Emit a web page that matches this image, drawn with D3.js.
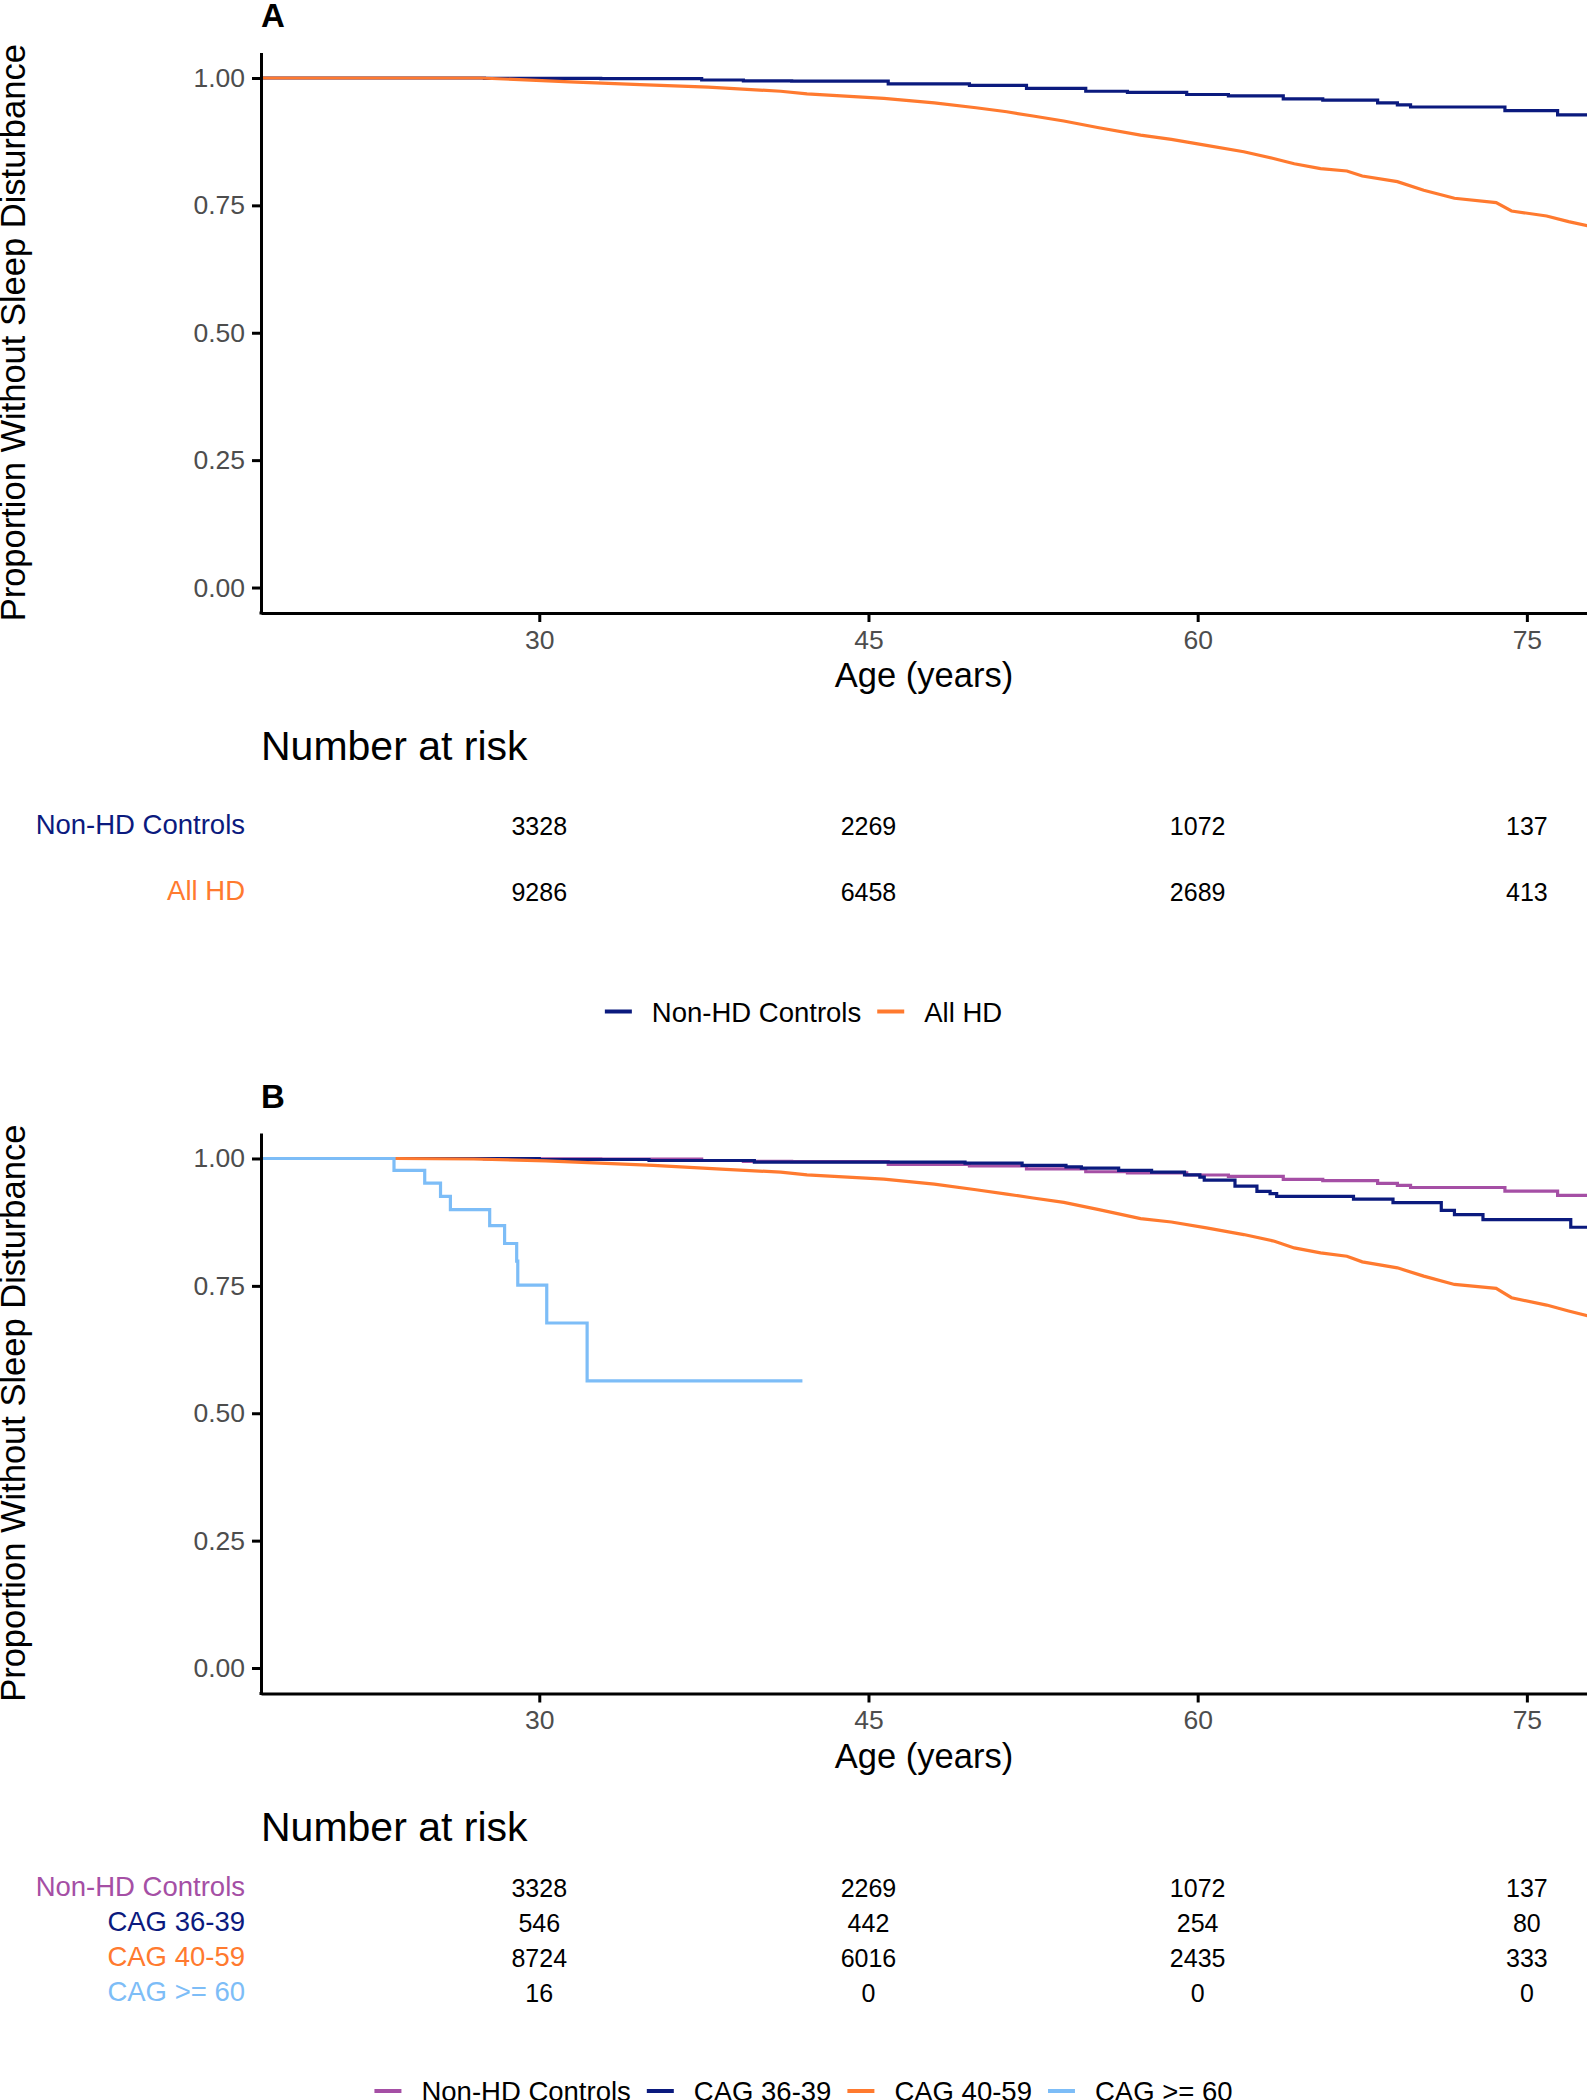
<!DOCTYPE html>
<html>
<head>
<meta charset="utf-8">
<script src="https://cdn.jsdelivr.net/npm/d3@7"></script>
<style>
  html, body { margin: 0; padding: 0; background: #fff; }
  svg { display: block; font-family: "Liberation Sans", Arial, Helvetica, sans-serif; }
</style>
</head>
<body>
<svg id="chart" width="1587" height="2100"></svg>
<script>
// ---------------- data ----------------
const xTicks = [30, 45, 60, 75];
const yTicks = [0, 0.25, 0.5, 0.75, 1];
const yTickLabels = ["0.00", "0.25", "0.50", "0.75", "1.00"];
const riskTimes = [30, 45, 60, 75];

// Non-HD Controls (used in both panels)
const ctrlAge  = [17.4, 27.5, 32.8, 37.4, 39.3, 41.5, 45.9, 49.6, 52.2, 54.9, 56.8, 59.5, 61.4, 63.9, 65.7, 68.2, 69.1, 69.7, 74.0, 76.4, 77.8];
const ctrlSurv = [1.0, 0.9993, 0.9987, 0.996, 0.9945, 0.9937, 0.9885, 0.9853, 0.9794, 0.974, 0.9716, 0.9676, 0.965, 0.959, 0.9565, 0.9513, 0.9473, 0.943, 0.936, 0.9277, 0.9277];

// All HD (panel A)
const allHDAge  = [17.4, 27.3, 31.4, 34.6, 37.7, 41.0, 42.2, 45.7, 48.0, 49.9, 51.3, 52.5, 53.9, 55.5, 57.4, 58.8, 60.4, 62.1, 63.5, 64.4, 65.6, 66.8, 67.5, 69.1, 70.3, 71.7, 73.6, 74.3, 75.9, 76.9, 77.8];
const allHDSurv = [1.0, 1.0, 0.9924, 0.987, 0.982, 0.974, 0.9689, 0.9598, 0.9513, 0.9415, 0.9337, 0.9253, 0.9155, 0.9024, 0.888, 0.8795, 0.8678, 0.8553, 0.8415, 0.8317, 0.822, 0.8174, 0.8076, 0.7965, 0.7796, 0.764, 0.7553, 0.739, 0.7292, 0.718, 0.7096];

// CAG 36-39 (panel B)
const cag36Age  = [17.4, 30.0, 35.0, 39.8, 49.4, 52.0, 54.0, 54.7, 56.4, 57.9, 59.4, 60.1, 60.3, 61.7, 62.7, 63.3, 63.6, 67.1, 68.9, 71.1, 71.7, 73.0, 77.0, 77.8];
const cag36Surv = [1.0, 0.998, 0.996, 0.9928, 0.9909, 0.9863, 0.9837, 0.9811, 0.9765, 0.9732, 0.968, 0.9635, 0.9576, 0.9459, 0.9354, 0.931, 0.9256, 0.9204, 0.9132, 0.8982, 0.8898, 0.88, 0.865, 0.865];

// CAG 40-59 (panel B)
const cag40Age  = [17.4, 23.4, 27.0, 30.3, 35.2, 38.5, 41.0, 42.2, 45.7, 48.0, 49.9, 51.3, 52.5, 53.9, 55.5, 57.4, 58.8, 60.4, 62.1, 63.5, 64.4, 65.6, 66.8, 67.5, 69.1, 70.3, 71.7, 73.6, 74.3, 75.9, 76.9, 77.8];
const cag40Surv = [1.0, 1.0, 0.999, 0.9954, 0.9863, 0.9785, 0.9733, 0.968, 0.9596, 0.9498, 0.9387, 0.9302, 0.9224, 0.9139, 0.8996, 0.882, 0.8754, 0.8637, 0.8507, 0.8376, 0.8245, 0.8147, 0.8082, 0.7971, 0.7854, 0.7691, 0.7528, 0.745, 0.7267, 0.7123, 0.7006, 0.6908];

// CAG >= 60 (panel B)
const cag60Age  = [17.4, 23.38, 24.78, 25.5, 25.95, 27.74, 28.42, 28.97, 29.02, 30.34, 32.18, 41.99];
const cag60Surv = [1.0, 0.9765, 0.9517, 0.9256, 0.8996, 0.8683, 0.8331, 0.7984, 0.7515, 0.6771, 0.5636, 0.5636];

// Number at risk
const riskA = [
  { name: "Non-HD Controls", values: [3328, 2269, 1072, 137] },
  { name: "All HD",          values: [9286, 6458, 2689, 413] }
];
const riskB = [
  { name: "Non-HD Controls", values: [3328, 2269, 1072, 137] },
  { name: "CAG 36-39",       values: [546, 442, 254, 80] },
  { name: "CAG 40-59",       values: [8724, 6016, 2435, 333] },
  { name: "CAG >= 60",       values: [16, 0, 0, 0] }
];

// ---------------- styles ----------------
const C = {
  navy: "#0b1a7e",
  orange: "#ff7a2f",
  purple: "#a54fa5",
  lblue: "#7dbdf7"
};

const svg = d3.select("#chart");
const FONT_TICK = 26.5, FONT_TITLE = 34.5, FONT_RISKT = 41, FONT_RLAB = 27.5, FONT_RNUM = 25, FONT_LEG = 27.5;

const x = d3.scaleLinear().domain([17.32, 77.74]).range([261, 1587]);

function zip(a, v) { return a.map((d, i) => ({ age: d, s: v[i] })); }

function drawPanel(cfg) {
  const { top, tag, series, risk, legend } = cfg;
  // y scale: 1.00 at top+24.8, 0.00 at top+535
  const y0 = top + 560.5, y1 = top;  // domain [-0.05, 1.05]
  const y = d3.scaleLinear().domain([-0.05, 1.05]).range([y0, y1]);
  const g = svg.append("g");

  // tag
  g.append("text").attr("x", 261).attr("y", top - 25.5)
    .attr("font-size", 33).attr("font-weight", "bold").text(tag);

  // clip
  const clipId = "clip" + tag;
  svg.append("clipPath").attr("id", clipId)
    .append("rect").attr("x", 261).attr("y", top).attr("width", 1587 - 261).attr("height", y0 - top);

  const lineGen = d3.line().x(d => x(d.age)).y(d => y(d.s));
  const curves = g.append("g").attr("clip-path", `url(#${clipId})`);
  series.forEach(s => {
    curves.append("path")
      .datum(zip(s.age, s.surv))
      .attr("fill", "none")
      .attr("stroke", s.color)
      .attr("stroke-width", 3.2)
      .attr("stroke-linejoin", "miter")
      .attr("d", lineGen.curve(s.step ? d3.curveStepAfter : d3.curveLinear));
  });

  // axes
  const yAxis = d3.axisLeft(y).tickValues(yTicks).tickFormat((d, i) => yTickLabels[i])
    .tickSize(9).tickSizeOuter(0).tickPadding(7);
  const ga = g.append("g").attr("transform", "translate(261,0)").call(yAxis);
  const xAxis = d3.axisBottom(x).tickValues(xTicks).tickFormat(d3.format("d"))
    .tickSize(9).tickSizeOuter(0).tickPadding(8);
  const gx = g.append("g").attr("transform", `translate(0,${y0})`).call(xAxis);
  [ga, gx].forEach(a => {
    a.select(".domain").attr("stroke", "#000").attr("stroke-width", 3);
    a.selectAll(".tick line").attr("stroke", "#000").attr("stroke-width", 3);
    a.selectAll(".tick text").attr("fill", "#4d4d4d").attr("font-size", FONT_TICK)
      .attr("font-family", '"Liberation Sans", Arial, sans-serif');
  });
  // square the axis corner
  g.append("rect").attr("x", 259.5).attr("y", y0 - 1.5).attr("width", 3).attr("height", 3).attr("fill", "#000");

  // axis titles
  g.append("text").attr("transform", `translate(25,${(y0 + y1) / 2}) rotate(-90)`)
    .attr("text-anchor", "middle").attr("font-size", FONT_TITLE)
    .text("Proportion Without Sleep Disturbance");
  g.append("text").attr("x", (261 + 1587) / 2).attr("y", y0 + 74)
    .attr("text-anchor", "middle").attr("font-size", FONT_TITLE).text("Age (years)");

  // risk table
  g.append("text").attr("x", 261).attr("y", y0 + 147).attr("font-size", FONT_RISKT).text("Number at risk");
  risk.rows.forEach((r, i) => {
    const by = risk.baselines[i];
    g.append("text").attr("x", 245).attr("y", by).attr("text-anchor", "end")
      .attr("font-size", FONT_RLAB).attr("fill", risk.colors[i]).text(r.name);
    riskTimes.forEach((t, j) => {
      g.append("text").attr("x", x(t)).attr("y", by + 1).attr("text-anchor", "middle")
        .attr("font-size", FONT_RNUM).attr("fill", "#000").text(r.values[j]);
    });
  });

  // legend
  const lg = g.append("g");
  let cx = 0;
  const items = [];
  legend.items.forEach((it, i) => {
    const key = lg.append("line").attr("x1", cx).attr("x2", cx + 27).attr("y1", 0).attr("y2", 0)
      .attr("stroke", it.color).attr("stroke-width", 4);
    const t = lg.append("text").attr("x", cx + 47).attr("y", 10).attr("font-size", FONT_LEG).text(it.name);
    const w = t.node().getComputedTextLength();
    cx = cx + 47 + w + 16;
  });
  const totalW = cx - 16;
  lg.attr("transform", `translate(${803.5 - totalW / 2},${legend.y})`);
}

drawPanel({
  top: 52.5,
  tag: "A",
  series: [
    { age: ctrlAge, surv: ctrlSurv, color: C.navy, step: true },
    { age: allHDAge, surv: allHDSurv, color: C.orange, step: false }
  ],
  risk: { rows: riskA, baselines: [834, 900], colors: [C.navy, C.orange] },
  legend: { y: 1011.5, items: [{ name: "Non-HD Controls", color: C.navy }, { name: "All HD", color: C.orange }] }
});

drawPanel({
  top: 1133,
  tag: "B",
  series: [
    { age: ctrlAge, surv: ctrlSurv, color: C.purple, step: true },
    { age: cag36Age, surv: cag36Surv, color: C.navy, step: true },
    { age: cag40Age, surv: cag40Surv, color: C.orange, step: false },
    { age: cag60Age, surv: cag60Surv, color: C.lblue, step: true }
  ],
  risk: { rows: riskB, baselines: [1896, 1931, 1966, 2001], colors: [C.purple, C.navy, C.orange, C.lblue] },
  legend: { y: 2091, items: [
    { name: "Non-HD Controls", color: C.purple },
    { name: "CAG 36-39", color: C.navy },
    { name: "CAG 40-59", color: C.orange },
    { name: "CAG >= 60", color: C.lblue }
  ] }
});
</script>
</body>
</html>
